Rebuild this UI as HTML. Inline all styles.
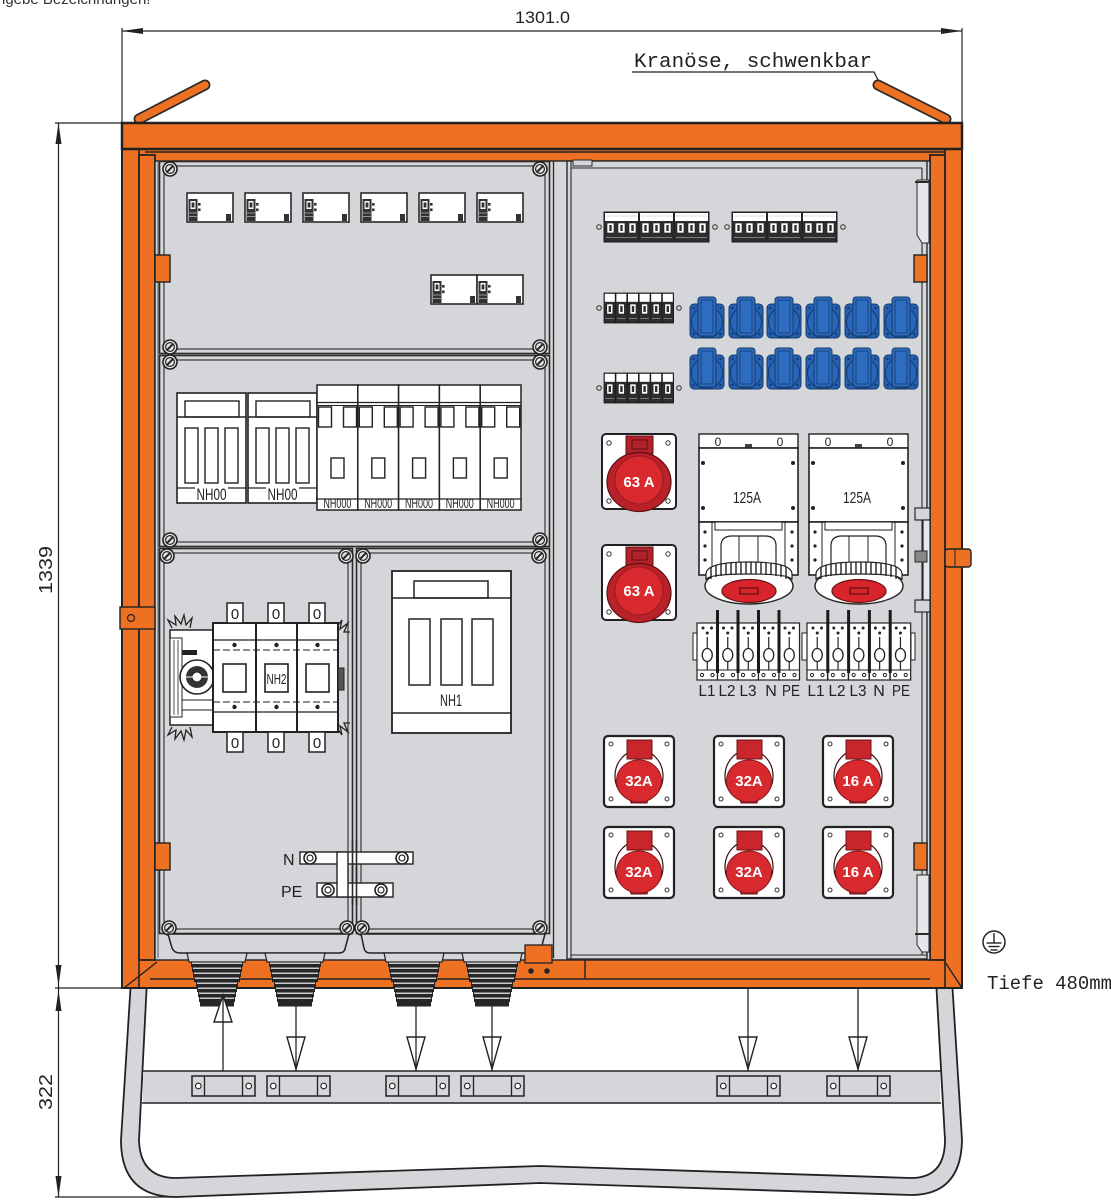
<!DOCTYPE html>
<html><head><meta charset="utf-8"><title>Baustromverteiler</title>
<style>
html,body{margin:0;padding:0;background:#fff;width:1111px;height:1200px;overflow:hidden}
svg{display:block}
</style></head><body>
<svg xmlns="http://www.w3.org/2000/svg" width="1111" height="1200" viewBox="0 0 1111 1200" font-family="'Liberation Sans', sans-serif">
<defs>
<g id="scr"><circle r="7" fill="#e4e5e7" stroke="#222" stroke-width="1.6"/><circle r="4.4" fill="none" stroke="#222" stroke-width="1.2"/><line x1="-3.3" y1="3.3" x2="3.3" y2="-3.3" stroke="#222" stroke-width="2"/></g>
<g id="mod">
<rect x="0" y="0" width="46" height="29" fill="#fff" stroke="#2a2a2a" stroke-width="1.6"/>
<rect x="1.5" y="6" width="9" height="22" fill="#333"/>
<rect x="3.5" y="8" width="5" height="8" fill="#fff"/>
<rect x="4.6" y="9.5" width="2.8" height="5" fill="#333"/>
<line x1="2" y1="20" x2="10" y2="20" stroke="#aaa" stroke-width="0.8"/>
<line x1="2" y1="23.5" x2="10" y2="23.5" stroke="#aaa" stroke-width="0.8"/>
<rect x="11" y="10" width="2.6" height="2.6" fill="#333"/>
<rect x="11" y="15.5" width="2.6" height="2.6" fill="#333"/>
<rect x="39" y="21" width="5" height="7" fill="#333"/>
</g>
<g id="mcb3">
<rect x="0" y="0" width="35" height="30" fill="#2e2e2e" stroke="#1a1a1a" stroke-width="1"/>
<rect x="1" y="1" width="33" height="8" fill="#fff"/>
<line x1="2" y1="4" x2="33" y2="4" stroke="#bbb" stroke-width="0.6"/>
<rect x="3" y="11" width="7" height="10" fill="#fff" stroke="#1a1a1a" stroke-width="0.6"/>
<rect x="14" y="11" width="7" height="10" fill="#fff" stroke="#1a1a1a" stroke-width="0.6"/>
<rect x="25" y="11" width="7" height="10" fill="#fff" stroke="#1a1a1a" stroke-width="0.6"/>
<rect x="5.3" y="13" width="2.4" height="6" fill="#2e2e2e"/>
<rect x="16.3" y="13" width="2.4" height="6" fill="#2e2e2e"/>
<rect x="27.3" y="13" width="2.4" height="6" fill="#2e2e2e"/>
<line x1="2" y1="25.5" x2="33" y2="25.5" stroke="#999" stroke-width="0.7"/>
</g>
<g id="mcb1">
<rect x="0" y="0" width="11.6" height="30" fill="#2e2e2e" stroke="#1a1a1a" stroke-width="0.8"/>
<rect x="0.8" y="0.8" width="10" height="8" fill="#fff"/>
<rect x="2.8" y="11" width="6" height="10" fill="#fff" stroke="#1a1a1a" stroke-width="0.6"/>
<rect x="4.6" y="13" width="2.4" height="6" fill="#2e2e2e"/>
<line x1="1.5" y1="25.5" x2="10" y2="25.5" stroke="#999" stroke-width="0.7"/>
</g>
<g id="blue">
<rect x="0" y="7" width="34" height="34" rx="4" fill="#2561b3" stroke="#143a6b" stroke-width="1"/>
<circle cx="17" cy="25" r="15.5" fill="#2866ba" stroke="#143a6b" stroke-width="1"/>
<rect x="8" y="0" width="18" height="39" rx="3" fill="#2e6cc0" stroke="#143a6b" stroke-width="1"/>
<rect x="11" y="3" width="12" height="33" fill="none" stroke="#143a6b" stroke-width="0.8"/>
<circle cx="3.5" cy="11" r="1.2" fill="#143a6b"/><circle cx="30.5" cy="11" r="1.2" fill="#143a6b"/>
<circle cx="3.5" cy="37" r="1.2" fill="#143a6b"/><circle cx="30.5" cy="37" r="1.2" fill="#143a6b"/>
</g>
<g id="s63">
<rect x="0" y="0" width="74" height="75" rx="4" fill="#fff" stroke="#222" stroke-width="2"/>
<circle cx="7" cy="9" r="2.2" fill="none" stroke="#333" stroke-width="1"/><circle cx="66" cy="9" r="2.2" fill="none" stroke="#333" stroke-width="1"/>
<circle cx="7" cy="67" r="2.2" fill="none" stroke="#333" stroke-width="1"/><circle cx="66" cy="67" r="2.2" fill="none" stroke="#333" stroke-width="1"/>
<rect x="24" y="2" width="27" height="18" fill="#b3222a" stroke="#5e1014" stroke-width="1"/>
<rect x="30" y="6" width="15" height="9" fill="none" stroke="#5e1014" stroke-width="1"/>
<ellipse cx="37" cy="48" rx="32" ry="29.5" fill="#b92228" stroke="#5e1014" stroke-width="1.2"/>
<circle cx="37" cy="46" r="24" fill="#d8292f" stroke="#9a1a1f" stroke-width="1"/>
</g>
<g id="s32">
<rect x="0" y="0" width="70" height="71" rx="4" fill="#fff" stroke="#222" stroke-width="2.2"/>
<circle cx="7" cy="8" r="2" fill="none" stroke="#333" stroke-width="1"/><circle cx="63" cy="8" r="2" fill="none" stroke="#333" stroke-width="1"/>
<circle cx="7" cy="63" r="2" fill="none" stroke="#333" stroke-width="1"/><circle cx="63" cy="63" r="2" fill="none" stroke="#333" stroke-width="1"/>
<ellipse cx="35" cy="40" rx="24" ry="26" fill="none" stroke="#3a0b0d" stroke-width="1.2"/>
<rect x="23" y="4" width="25" height="19" fill="#c8262c" stroke="#6a1216" stroke-width="1"/>
<path d="M24 56 L46 56 L43 67 L27 67 Z" fill="#c8262c" stroke="#6a1216" stroke-width="1"/>
<ellipse cx="35" cy="45" rx="22.5" ry="21" fill="#d8292f" stroke="#8f1a1f" stroke-width="1"/>
</g>
<g id="u125">
<rect x="0" y="0" width="99" height="14" fill="#fff" stroke="#222" stroke-width="1.4"/>
<rect x="46" y="10" width="7" height="4" fill="#444"/>
<rect x="0" y="14" width="99" height="74" fill="#fff" stroke="#222" stroke-width="1.6"/>
<circle cx="4" cy="29" r="2" fill="#222"/><circle cx="94" cy="29" r="2" fill="#222"/>
<circle cx="4" cy="74" r="2" fill="#222"/><circle cx="94" cy="74" r="2" fill="#222"/>
<rect x="0" y="88" width="99" height="53" fill="#fff" stroke="#222" stroke-width="1.6"/>
<line x1="13" y1="88" x2="13" y2="141" stroke="#222" stroke-width="1"/>
<line x1="86" y1="88" x2="86" y2="141" stroke="#222" stroke-width="1"/>
<circle cx="6" cy="98" r="1.6" fill="#222"/><circle cx="6" cy="112" r="1.6" fill="#222"/><circle cx="6" cy="126" r="1.6" fill="#222"/>
<circle cx="93" cy="98" r="1.6" fill="#222"/><circle cx="93" cy="112" r="1.6" fill="#222"/><circle cx="93" cy="126" r="1.6" fill="#222"/>
<rect x="16" y="88" width="67" height="8" fill="#fff" stroke="#222" stroke-width="1"/>
<path d="M22 141 L22 112 Q22 102 33 102 L66 102 Q77 102 77 112 L77 141" fill="#fff" stroke="#222" stroke-width="1.2"/>
<line x1="40" y1="102" x2="40" y2="141" stroke="#222" stroke-width="1"/>
<line x1="59" y1="102" x2="59" y2="141" stroke="#222" stroke-width="1"/>
<ellipse cx="50" cy="152" rx="44" ry="18" fill="#fff" stroke="#222" stroke-width="1.4"/>
<path d="M7 140 Q7 128 50 128 Q93 128 93 140 L93 146 Q93 140 50 140 Q7 140 7 146 Z" fill="#fff" stroke="#222" stroke-width="1.2"/>
<g stroke="#222" stroke-width="1.4">
<line x1="12" y1="133" x2="12" y2="145"/><line x1="17" y1="131" x2="17" y2="143"/><line x1="22" y1="130" x2="22" y2="142"/><line x1="27" y1="129" x2="27" y2="141"/><line x1="32" y1="129" x2="32" y2="141"/><line x1="37" y1="128" x2="37" y2="140"/><line x1="42" y1="128" x2="42" y2="140"/><line x1="47" y1="128" x2="47" y2="140"/><line x1="52" y1="128" x2="52" y2="140"/><line x1="57" y1="128" x2="57" y2="140"/><line x1="62" y1="128" x2="62" y2="140"/><line x1="67" y1="129" x2="67" y2="141"/><line x1="72" y1="129" x2="72" y2="141"/><line x1="77" y1="130" x2="77" y2="142"/><line x1="82" y1="131" x2="82" y2="143"/><line x1="87" y1="133" x2="87" y2="145"/>
</g>
<ellipse cx="50" cy="157" rx="27" ry="11.5" fill="#d8252b" stroke="#6a1216" stroke-width="1.2"/>
<rect x="41" y="154" width="18" height="6" fill="none" stroke="#5a0f12" stroke-width="1.2"/>
</g>
<g id="tb">
<rect x="0" y="0" width="20.5" height="57" fill="#fff" stroke="#222" stroke-width="1.2"/>
<circle cx="6" cy="5" r="1.5" fill="#222"/><circle cx="14.5" cy="5" r="1.5" fill="#222"/>
<circle cx="10.25" cy="10" r="1.5" fill="#222"/>
<line x1="10.25" y1="14" x2="10.25" y2="25" stroke="#222" stroke-width="1.2"/>
<ellipse cx="10.25" cy="32" rx="5" ry="6.5" fill="#fff" stroke="#222" stroke-width="1.3"/>
<line x1="10.25" y1="38.5" x2="10.25" y2="47" stroke="#222" stroke-width="1.2"/>
<line x1="0" y1="47" x2="20.5" y2="47" stroke="#222" stroke-width="1"/>
<circle cx="5" cy="52" r="1.6" fill="none" stroke="#222" stroke-width="1"/><circle cx="15.5" cy="52" r="1.6" fill="none" stroke="#222" stroke-width="1"/>
</g>
<g id="nh00">
<rect x="0" y="0" width="69" height="110" fill="#fff" stroke="#222" stroke-width="1.6"/>
<rect x="8" y="8" width="54" height="16" fill="#fff" stroke="#222" stroke-width="1.4"/>
<line x1="0" y1="24" x2="69" y2="24" stroke="#222" stroke-width="1.4"/>
<rect x="8" y="35" width="13" height="55" fill="#fff" stroke="#222" stroke-width="1.4"/>
<rect x="28" y="35" width="13" height="55" fill="#fff" stroke="#222" stroke-width="1.4"/>
<rect x="48" y="35" width="13" height="55" fill="#fff" stroke="#222" stroke-width="1.4"/>
<line x1="0" y1="95" x2="18" y2="95" stroke="#222" stroke-width="1.3"/>
<line x1="51" y1="95" x2="69" y2="95" stroke="#222" stroke-width="1.3"/>
</g>
<g id="nh000">
<rect x="0" y="0" width="40.8" height="125" fill="#fff" stroke="#222" stroke-width="1.5"/>
<line x1="0" y1="17.5" x2="40.8" y2="17.5" stroke="#222" stroke-width="1.2"/>
<line x1="0" y1="20.5" x2="40.8" y2="20.5" stroke="#222" stroke-width="1"/>
<rect x="1.5" y="22" width="13" height="20" fill="#fff" stroke="#222" stroke-width="1.4"/>
<rect x="26.5" y="22" width="13" height="20" fill="#fff" stroke="#222" stroke-width="1.4"/>
<rect x="14" y="73" width="13" height="20" fill="#fff" stroke="#222" stroke-width="1.4"/>
<line x1="0" y1="114" x2="40.8" y2="114" stroke="#222" stroke-width="1.3"/>
</g>
<g id="gland">
<path d="M-30 953 L30 953 L28 962 L-28 962 Z" fill="#d4d6d9" stroke="#222" stroke-width="1.2"/>
<rect x="-26" y="962" width="52" height="5" fill="#262626"/><rect x="-25" y="962.5" width="50" height="1.5" fill="#c9cbce"/>
<rect x="-25" y="967" width="50" height="5" fill="#262626"/><rect x="-24" y="967.5" width="48" height="1.5" fill="#c9cbce"/>
<rect x="-24" y="972" width="48" height="5" fill="#262626"/><rect x="-23" y="972.5" width="46" height="1.5" fill="#c9cbce"/>
<rect x="-23" y="977" width="46" height="5" fill="#262626"/><rect x="-22" y="977.5" width="44" height="1.5" fill="#c9cbce"/>
<rect x="-21" y="982" width="42" height="5" fill="#262626"/><rect x="-20" y="982.5" width="40" height="1.5" fill="#c9cbce"/>
<rect x="-20" y="987" width="40" height="5" fill="#262626"/><rect x="-19" y="987.5" width="38" height="1.5" fill="#c9cbce"/>
<rect x="-19" y="992" width="38" height="5" fill="#262626"/><rect x="-18" y="992.5" width="36" height="1.5" fill="#c9cbce"/>
<rect x="-18" y="997" width="36" height="5" fill="#262626"/><rect x="-17" y="997.5" width="34" height="1.5" fill="#c9cbce"/>
<rect x="-17" y="1002" width="34" height="4.5" fill="#262626"/>
</g>
<g id="brk">
<rect x="0" y="0" width="63" height="20" fill="#d4d6d9" stroke="#222" stroke-width="1.5"/>
<line x1="12.5" y1="0" x2="12.5" y2="20" stroke="#222" stroke-width="1.3"/>
<line x1="50.5" y1="0" x2="50.5" y2="20" stroke="#222" stroke-width="1.3"/>
<circle cx="6.3" cy="10" r="2.8" fill="#fff" stroke="#222" stroke-width="1.1"/>
<circle cx="56.7" cy="10" r="2.8" fill="#fff" stroke="#222" stroke-width="1.1"/>
</g>
<g id="adn">
<path d="M-9 -32 L9 -32 L0 0 Z" fill="#fff" stroke="#222" stroke-width="1.4"/>
<line x1="0" y1="-32" x2="0" y2="0" stroke="#222" stroke-width="1.3"/>
</g>
</defs>

<!-- header text -->
<text x="-3" y="4" font-size="15" fill="#333">ngebe Bezeichnungen!</text>

<!-- top dimension -->
<line x1="122" y1="31" x2="962" y2="31" stroke="#222" stroke-width="1.2"/>
<path d="M122 31 L143 28 L143 34 Z" fill="#222"/>
<path d="M962 31 L941 28 L941 34 Z" fill="#222"/>
<line x1="122" y1="28" x2="122" y2="123" stroke="#222" stroke-width="1.2"/>
<line x1="962" y1="28" x2="962" y2="123" stroke="#222" stroke-width="1.2"/>
<text x="515" y="23" font-size="17" fill="#222" textLength="55" lengthAdjust="spacingAndGlyphs">1301.0</text>

<!-- left dimensions -->
<line x1="55" y1="123" x2="122" y2="123" stroke="#222" stroke-width="1.2"/>
<line x1="55" y1="988" x2="130" y2="988" stroke="#222" stroke-width="1.2"/>
<line x1="55" y1="1197" x2="178" y2="1197" stroke="#222" stroke-width="1.2"/>
<line x1="58.5" y1="123" x2="58.5" y2="1197" stroke="#222" stroke-width="1.2"/>
<path d="M58.5 123 L55.5 144 L61.5 144 Z" fill="#222"/>
<path d="M58.5 986 L55.5 965 L61.5 965 Z" fill="#222"/>
<path d="M58.5 990 L55.5 1011 L61.5 1011 Z" fill="#222"/>
<path d="M58.5 1197 L55.5 1176 L61.5 1176 Z" fill="#222"/>
<text transform="translate(52,570) rotate(-90)" text-anchor="middle" font-size="18" fill="#222" textLength="48" lengthAdjust="spacingAndGlyphs">1339</text>
<text transform="translate(52,1092) rotate(-90)" text-anchor="middle" font-size="18" fill="#222" textLength="36" lengthAdjust="spacingAndGlyphs">322</text>

<!-- Kranöse label -->
<text x="634" y="67" font-family="'Liberation Mono', monospace" font-size="20" fill="#222" textLength="238" lengthAdjust="spacingAndGlyphs">Kranöse, schwenkbar</text>
<polyline points="632,72 874,72 880,84" fill="none" stroke="#222" stroke-width="1.3"/>

<!-- handles -->
<line x1="139" y1="119" x2="205" y2="85" stroke="#2a2a2a" stroke-width="11" stroke-linecap="round"/>
<line x1="139" y1="119" x2="205" y2="85" stroke="#ee7023" stroke-width="7.5" stroke-linecap="round"/>
<line x1="878" y1="85" x2="946" y2="119" stroke="#2a2a2a" stroke-width="11" stroke-linecap="round"/>
<line x1="878" y1="85" x2="946" y2="119" stroke="#ee7023" stroke-width="7.5" stroke-linecap="round"/>

<!-- stand -->
<path d="M131 980 L121 1140 Q121 1197 176 1197 L540 1183 L911 1195 Q961 1195 962 1140 L952 980 Z" fill="#d4d6d9" stroke="#222" stroke-width="1.8"/>
<path d="M147 980 L139 1140 Q140 1178 176 1178 L540 1166 L911 1178 Q945 1178 945 1140 L936 980 Z" fill="#fff" stroke="#222" stroke-width="1.8"/>
<rect x="143" y="1071" width="797" height="32" fill="#d4d6d9"/>
<line x1="142" y1="1071" x2="941" y2="1071" stroke="#222" stroke-width="1.6"/>
<line x1="142" y1="1103" x2="941" y2="1103" stroke="#222" stroke-width="1.6"/>
<use href="#brk" x="192" y="1076"/>
<use href="#brk" x="267" y="1076"/>
<use href="#brk" x="386" y="1076"/>
<use href="#brk" x="461" y="1076"/>
<use href="#brk" x="717" y="1076"/>
<use href="#brk" x="827" y="1076"/>
<!-- arrows -->
<line x1="296" y1="1000" x2="296" y2="1071" stroke="#222" stroke-width="1.3"/>
<line x1="416" y1="1000" x2="416" y2="1071" stroke="#222" stroke-width="1.3"/>
<line x1="492" y1="1000" x2="492" y2="1071" stroke="#222" stroke-width="1.3"/>
<line x1="748" y1="985" x2="748" y2="1071" stroke="#222" stroke-width="1.3"/>
<line x1="858" y1="985" x2="858" y2="1071" stroke="#222" stroke-width="1.3"/>
<use href="#adn" x="296" y="1069"/>
<use href="#adn" x="416" y="1069"/>
<use href="#adn" x="492" y="1069"/>
<use href="#adn" x="748" y="1069"/>
<use href="#adn" x="858" y="1069"/>

<!-- cabinet body -->
<rect x="122" y="123" width="840" height="865" fill="#ee7023" stroke="#222" stroke-width="2"/>
<rect x="122" y="123" width="840" height="26" fill="#ee7023" stroke="#222" stroke-width="2.5"/>
<line x1="145" y1="152" x2="945" y2="152" stroke="#222" stroke-width="1.6"/>
<line x1="139" y1="149" x2="139" y2="988" stroke="#222" stroke-width="1.6"/>
<line x1="945" y1="149" x2="945" y2="988" stroke="#222" stroke-width="1.6"/>
<rect x="139" y="155" width="16" height="805" fill="#ee7023" stroke="#222" stroke-width="1.8"/>
<rect x="930" y="155" width="15" height="805" fill="#ee7023" stroke="#222" stroke-width="1.8"/>
<rect x="155" y="161" width="775" height="799" fill="#d4d6d9" stroke="#222" stroke-width="1.4"/>
<line x1="150" y1="979" x2="930" y2="979" stroke="#222" stroke-width="1.6"/>
<line x1="585" y1="960" x2="585" y2="979" stroke="#222" stroke-width="1.4"/>
<line x1="157" y1="962" x2="124" y2="988" stroke="#222" stroke-width="1.4"/>
<line x1="945" y1="962" x2="962" y2="988" stroke="#222" stroke-width="1.4"/>

<!-- left door frame lines -->
<line x1="158" y1="161" x2="158" y2="958" stroke="#555" stroke-width="1"/>

<!-- left door sections -->
<g fill="none" stroke="#2a2a2a">
<rect x="159.5" y="161.5" width="390" height="192" stroke-width="1.6"/>
<rect x="164" y="166" width="381" height="183" stroke-width="1.1"/>
<rect x="159.5" y="355.5" width="390" height="191" stroke-width="1.6"/>
<rect x="164" y="360" width="381" height="182" stroke-width="1.1"/>
<rect x="159.5" y="548.5" width="193" height="385" stroke-width="1.6"/>
<rect x="164" y="553" width="184" height="376" stroke-width="1.1"/>
<rect x="356.5" y="548.5" width="193" height="385" stroke-width="1.6"/>
<rect x="361" y="553" width="184" height="376" stroke-width="1.1"/>
</g>
<line x1="553.5" y1="161" x2="553.5" y2="958" stroke="#2a2a2a" stroke-width="1.3"/>

<!-- right door panel lines -->
<rect x="567" y="161" width="360" height="798" fill="#d4d6d9" stroke="#2a2a2a" stroke-width="1.4"/>
<line x1="571" y1="161" x2="571" y2="959" stroke="#2a2a2a" stroke-width="1.1"/>
<line x1="571" y1="168" x2="922" y2="168" stroke="#2a2a2a" stroke-width="1.1"/>
<line x1="922" y1="168" x2="922" y2="955" stroke="#2a2a2a" stroke-width="1.1"/>
<line x1="571" y1="955" x2="927" y2="955" stroke="#2a2a2a" stroke-width="1.1"/>
<rect x="573" y="160" width="19" height="6" fill="#d4d6d9" stroke="#2a2a2a" stroke-width="1"/>
<path d="M917 180 L929 180 L929 243 L922 243 L917 235 Z" fill="#e6e7e8" stroke="#2a2a2a" stroke-width="1"/>
<line x1="915" y1="182" x2="930" y2="182" stroke="#2a2a2a" stroke-width="2"/>
<path d="M917 875 L929 875 L929 952 L922 952 L917 945 Z" fill="#e6e7e8" stroke="#2a2a2a" stroke-width="1"/>
<line x1="915" y1="934" x2="930" y2="934" stroke="#2a2a2a" stroke-width="2"/>
<!-- right latch -->
<rect x="915" y="508" width="15" height="12" fill="#d4d6d9" stroke="#2a2a2a" stroke-width="1.2"/>
<rect x="915" y="600" width="15" height="12" fill="#d4d6d9" stroke="#2a2a2a" stroke-width="1.2"/>
<rect x="923" y="520" width="7" height="80" fill="#e6e7e8" stroke="#2a2a2a" stroke-width="1.2"/>
<rect x="915" y="551" width="12" height="11" fill="#888" stroke="#2a2a2a" stroke-width="1"/>

<!-- hinge tabs -->
<rect x="155" y="255" width="15" height="27" fill="#ee7023" stroke="#222" stroke-width="1.4"/>
<rect x="155" y="843" width="15" height="27" fill="#ee7023" stroke="#222" stroke-width="1.4"/>
<rect x="914" y="255" width="13" height="27" fill="#ee7023" stroke="#222" stroke-width="1.4"/>
<rect x="914" y="843" width="13" height="27" fill="#ee7023" stroke="#222" stroke-width="1.4"/>
<rect x="120" y="607" width="35" height="22" fill="#ee7023" stroke="#222" stroke-width="1.4"/>
<circle cx="131" cy="618" r="3.5" fill="none" stroke="#222" stroke-width="1.2"/>
<rect x="945" y="549" width="26" height="18" rx="3" fill="#ee7023" stroke="#222" stroke-width="1.4"/>
<line x1="955" y1="549" x2="955" y2="567" stroke="#222" stroke-width="1"/>

<!-- screws -->
<use href="#scr" x="170" y="169"/><use href="#scr" x="540" y="169"/>
<use href="#scr" x="170" y="347"/><use href="#scr" x="540" y="347"/>
<use href="#scr" x="170" y="362"/><use href="#scr" x="540" y="362"/>
<use href="#scr" x="170" y="540"/><use href="#scr" x="540" y="540"/>
<use href="#scr" x="167" y="556"/><use href="#scr" x="346" y="556"/>
<use href="#scr" x="363" y="556"/><use href="#scr" x="539" y="556"/>
<use href="#scr" x="169" y="928"/><use href="#scr" x="347" y="928"/>
<use href="#scr" x="362" y="928"/><use href="#scr" x="540" y="928"/>

<!-- section 1 modules -->
<use href="#mod" x="187" y="193"/><use href="#mod" x="245" y="193"/><use href="#mod" x="303" y="193"/>
<use href="#mod" x="361" y="193"/><use href="#mod" x="419" y="193"/><use href="#mod" x="477" y="193"/>
<use href="#mod" x="431" y="275"/><use href="#mod" x="477" y="275"/>

<!-- section 2 fuses -->
<use href="#nh00" x="177" y="393"/>
<use href="#nh00" x="248" y="393"/>
<text x="211.5" y="500" font-size="17" text-anchor="middle" fill="#222" textLength="30" lengthAdjust="spacingAndGlyphs">NH00</text>
<text x="282.5" y="500" font-size="17" text-anchor="middle" fill="#222" textLength="30" lengthAdjust="spacingAndGlyphs">NH00</text>
<use href="#nh000" x="317" y="385"/><use href="#nh000" x="357.8" y="385"/><use href="#nh000" x="398.6" y="385"/><use href="#nh000" x="439.4" y="385"/><use href="#nh000" x="480.2" y="385"/>
<g font-size="14" fill="#222" text-anchor="middle">
<text x="337.4" y="508" textLength="28" lengthAdjust="spacingAndGlyphs">NH000</text>
<text x="378.2" y="508" textLength="28" lengthAdjust="spacingAndGlyphs">NH000</text>
<text x="419" y="508" textLength="28" lengthAdjust="spacingAndGlyphs">NH000</text>
<text x="459.8" y="508" textLength="28" lengthAdjust="spacingAndGlyphs">NH000</text>
<text x="500.6" y="508" textLength="28" lengthAdjust="spacingAndGlyphs">NH000</text>
</g>

<!-- NH2 switch -->
<g stroke="#222" fill="none" stroke-width="1.3">
<polyline points="172,628 168,620 176,625 175,616 181,624 184,615 186,625 192,618 190,628"/>
<polyline points="172,727 168,735 176,730 175,739 181,731 184,740 186,730 192,737 190,727"/>
<polyline points="336,628 342,620 340,629 348,623 344,632 350,632"/>
<polyline points="336,727 342,735 340,726 348,732 344,723 350,723"/>
</g>
<rect x="170" y="630" width="45" height="95" fill="#fff" stroke="#222" stroke-width="1.5"/>
<rect x="170" y="638" width="12" height="79" fill="#fff" stroke="#222" stroke-width="1"/>
<line x1="174" y1="640" x2="174" y2="715" stroke="#222" stroke-width="0.8"/>
<line x1="178" y1="640" x2="178" y2="715" stroke="#222" stroke-width="0.8"/>
<rect x="182" y="650" width="15" height="5" fill="#222"/>
<line x1="182" y1="700" x2="215" y2="700" stroke="#222" stroke-width="1"/>
<line x1="182" y1="710" x2="215" y2="710" stroke="#222" stroke-width="1"/>
<circle cx="197" cy="677" r="17" fill="#fff" stroke="#222" stroke-width="1.6"/>
<circle cx="197" cy="677" r="11" fill="#333"/>
<circle cx="197" cy="677" r="5" fill="#fff" stroke="#222"/>
<line x1="186" y1="677" x2="208" y2="677" stroke="#fff" stroke-width="1"/>
<rect x="213" y="623" width="125" height="109" fill="#fff" stroke="#222" stroke-width="2"/>
<line x1="256" y1="623" x2="256" y2="732" stroke="#222" stroke-width="2"/>
<line x1="297" y1="623" x2="297" y2="732" stroke="#222" stroke-width="2"/>
<line x1="213" y1="640" x2="338" y2="640" stroke="#222" stroke-width="1.2"/>
<line x1="213" y1="650" x2="338" y2="650" stroke="#222" stroke-width="1" stroke-dasharray="7 3"/>
<line x1="213" y1="702" x2="338" y2="702" stroke="#222" stroke-width="1" stroke-dasharray="7 3"/>
<line x1="213" y1="712" x2="338" y2="712" stroke="#222" stroke-width="1.2"/>
<circle cx="234.5" cy="645" r="2.2" fill="#222"/><circle cx="276.5" cy="645" r="2.2" fill="#222"/><circle cx="317.5" cy="645" r="2.2" fill="#222"/>
<circle cx="234.5" cy="707" r="2.2" fill="#222"/><circle cx="276.5" cy="707" r="2.2" fill="#222"/><circle cx="317.5" cy="707" r="2.2" fill="#222"/>
<rect x="223" y="664" width="23" height="28" fill="#fff" stroke="#222" stroke-width="1.6"/>
<rect x="265" y="664" width="23" height="28" fill="#fff" stroke="#222" stroke-width="1.6"/>
<rect x="306" y="664" width="23" height="28" fill="#fff" stroke="#222" stroke-width="1.6"/>
<text x="276.5" y="684" font-size="15" text-anchor="middle" fill="#222" textLength="20" lengthAdjust="spacingAndGlyphs">NH2</text>
<rect x="338" y="668" width="6" height="22" fill="#555" stroke="#222" stroke-width="1"/>
<g fill="#fff" stroke="#222" stroke-width="1.5">
<rect x="227" y="603" width="16" height="20"/><rect x="268" y="603" width="16" height="20"/><rect x="309" y="603" width="16" height="20"/>
<rect x="227" y="732" width="16" height="20"/><rect x="268" y="732" width="16" height="20"/><rect x="309" y="732" width="16" height="20"/>
</g>
<g font-size="15" fill="#222" text-anchor="middle">
<text x="235" y="619">0</text><text x="276" y="619">0</text><text x="317" y="619">0</text>
<text x="235" y="748">0</text><text x="276" y="748">0</text><text x="317" y="748">0</text>
</g>

<!-- NH1 -->
<rect x="392" y="571" width="119" height="162" fill="#fff" stroke="#222" stroke-width="1.8"/>
<rect x="414" y="581" width="74" height="17" fill="#fff" stroke="#222" stroke-width="1.5"/>
<line x1="392" y1="598" x2="511" y2="598" stroke="#222" stroke-width="1.5"/>
<rect x="409" y="619" width="21" height="66" fill="#fff" stroke="#222" stroke-width="1.5"/>
<rect x="441" y="619" width="21" height="66" fill="#fff" stroke="#222" stroke-width="1.5"/>
<rect x="472" y="619" width="21" height="66" fill="#fff" stroke="#222" stroke-width="1.5"/>
<text x="451" y="706" font-size="17" text-anchor="middle" fill="#222" textLength="22" lengthAdjust="spacingAndGlyphs">NH1</text>
<line x1="392" y1="713" x2="511" y2="713" stroke="#222" stroke-width="1.5"/>

<!-- N / PE bars -->
<rect x="300" y="852" width="113" height="12" fill="#fff" stroke="#222" stroke-width="1.4"/>
<rect x="317" y="883" width="76" height="14" fill="#fff" stroke="#222" stroke-width="1.4"/>
<rect x="337" y="852" width="11" height="45" fill="#fff" stroke="#222" stroke-width="1.4"/>
<line x1="352.5" y1="840" x2="352.5" y2="905" stroke="#2a2a2a" stroke-width="1.6"/>
<line x1="356.5" y1="840" x2="356.5" y2="905" stroke="#2a2a2a" stroke-width="1.6"/>
<g fill="#fff" stroke="#222">
<circle cx="310" cy="858" r="6" stroke-width="1.6"/><circle cx="310" cy="858" r="3" stroke-width="1.2"/>
<circle cx="402" cy="858" r="6" stroke-width="1.6"/><circle cx="402" cy="858" r="3" stroke-width="1.2"/>
<circle cx="328" cy="890" r="6" stroke-width="1.6"/><circle cx="328" cy="890" r="3" stroke-width="1.2"/>
<circle cx="381" cy="890" r="6" stroke-width="1.6"/><circle cx="381" cy="890" r="3" stroke-width="1.2"/>
</g>
<text x="283" y="865" font-size="16" fill="#222">N</text>
<text x="281" y="897" font-size="16" fill="#222">PE</text>

<!-- gland troughs -->
<path d="M168 934 L349 934 L345 949 Q344 953 339 953 L180 953 Q174 953 172 948 Z" fill="#d4d6d9" stroke="#222" stroke-width="1.5"/>
<path d="M361 934 L545 934 L541 949 Q540 953 535 953 L370 953 Q365 953 364 948 Z" fill="#d4d6d9" stroke="#222" stroke-width="1.5"/>
<rect x="525" y="945" width="27" height="18" fill="#ee7023" stroke="#222" stroke-width="1.3"/>
<circle cx="531" cy="971" r="2.8" fill="#222"/><circle cx="547" cy="971" r="2.8" fill="#222"/>

<!-- glands -->
<use href="#gland" x="217" y="0"/>
<use href="#gland" x="295" y="0"/>
<use href="#gland" x="414" y="0"/>
<use href="#gland" x="492" y="0"/>
<!-- up arrow -->
<line x1="223" y1="995" x2="223" y2="1071" stroke="#222" stroke-width="1.3"/>
<path d="M223 995 L214 1022 L232 1022 Z" fill="#fff" stroke="#222" stroke-width="1.4"/>
<line x1="223" y1="995" x2="223" y2="1022" stroke="#222" stroke-width="1.3"/>

<!-- right door: MCB rows -->
<use href="#mcb3" x="604" y="212"/><use href="#mcb3" x="639" y="212"/><use href="#mcb3" x="674" y="212"/>
<use href="#mcb3" x="732" y="212"/><use href="#mcb3" x="767" y="212"/><use href="#mcb3" x="802" y="212"/>
<use href="#mcb1" x="604" y="293"/><use href="#mcb1" x="615.6" y="293"/><use href="#mcb1" x="627.2" y="293"/><use href="#mcb1" x="638.8" y="293"/><use href="#mcb1" x="650.4" y="293"/><use href="#mcb1" x="662" y="293"/>
<use href="#mcb1" x="604" y="373"/><use href="#mcb1" x="615.6" y="373"/><use href="#mcb1" x="627.2" y="373"/><use href="#mcb1" x="638.8" y="373"/><use href="#mcb1" x="650.4" y="373"/><use href="#mcb1" x="662" y="373"/>
<g fill="none" stroke="#333" stroke-width="1">
<circle cx="599" cy="227" r="2.3"/><circle cx="715" cy="227" r="2.3"/><circle cx="727" cy="227" r="2.3"/><circle cx="843" cy="227" r="2.3"/>
<circle cx="599" cy="308" r="2.3"/><circle cx="679" cy="308" r="2.3"/>
<circle cx="599" cy="388" r="2.3"/><circle cx="679" cy="388" r="2.3"/>
</g>

<!-- blue sockets -->
<use href="#blue" x="690" y="297"/><use href="#blue" x="729" y="297"/><use href="#blue" x="767" y="297"/><use href="#blue" x="806" y="297"/><use href="#blue" x="845" y="297"/><use href="#blue" x="884" y="297"/>
<use href="#blue" x="690" y="348"/><use href="#blue" x="729" y="348"/><use href="#blue" x="767" y="348"/><use href="#blue" x="806" y="348"/><use href="#blue" x="845" y="348"/><use href="#blue" x="884" y="348"/>

<!-- 63A sockets -->
<use href="#s63" x="602" y="434"/>
<use href="#s63" x="602" y="545"/>
<text x="639" y="487" font-size="15" font-weight="bold" fill="#fff" text-anchor="middle">63 A</text>
<text x="639" y="596" font-size="15" font-weight="bold" fill="#fff" text-anchor="middle">63 A</text>

<!-- 125A units -->
<use href="#u125" x="699" y="434"/>
<use href="#u125" x="809" y="434"/>
<g font-size="12" fill="#222" text-anchor="middle">
<text x="718" y="446">0</text><text x="780" y="446">0</text>
<text x="828" y="446">0</text><text x="890" y="446">0</text>
</g>
<text x="747" y="503" font-size="16" fill="#222" text-anchor="middle" textLength="28" lengthAdjust="spacingAndGlyphs">125A</text>
<text x="857" y="503" font-size="16" fill="#222" text-anchor="middle" textLength="28" lengthAdjust="spacingAndGlyphs">125A</text>

<!-- terminal blocks -->
<rect x="693" y="633" width="4" height="27" fill="#fff" stroke="#222" stroke-width="1"/>
<rect x="802" y="633" width="5" height="27" fill="#fff" stroke="#222" stroke-width="1"/>
<rect x="911" y="633" width="4" height="27" fill="#fff" stroke="#222" stroke-width="1"/>
<use href="#tb" x="697" y="623"/><use href="#tb" x="717.5" y="623"/><use href="#tb" x="738" y="623"/><use href="#tb" x="758.5" y="623"/><use href="#tb" x="779" y="623"/>
<use href="#tb" x="807" y="623"/><use href="#tb" x="827.8" y="623"/><use href="#tb" x="848.6" y="623"/><use href="#tb" x="869.4" y="623"/><use href="#tb" x="890.2" y="623"/>
<g fill="#1a1a1a">
<rect x="716" y="610" width="3" height="63"/><rect x="736.5" y="610" width="3" height="63"/><rect x="757" y="610" width="3" height="63"/><rect x="777.5" y="610" width="3" height="63"/>
<rect x="826.3" y="610" width="3" height="63"/><rect x="847.1" y="610" width="3" height="63"/><rect x="867.9" y="610" width="3" height="63"/><rect x="888.7" y="610" width="3" height="63"/>
</g>
<g font-size="16" fill="#222" text-anchor="middle">
<text x="707" y="696" textLength="17" lengthAdjust="spacingAndGlyphs">L1</text>
<text x="727" y="696" textLength="17" lengthAdjust="spacingAndGlyphs">L2</text>
<text x="748" y="696" textLength="17" lengthAdjust="spacingAndGlyphs">L3</text>
<text x="771" y="696">N</text>
<text x="791" y="696" textLength="18" lengthAdjust="spacingAndGlyphs">PE</text>
<text x="816" y="696" textLength="17" lengthAdjust="spacingAndGlyphs">L1</text>
<text x="837" y="696" textLength="17" lengthAdjust="spacingAndGlyphs">L2</text>
<text x="858" y="696" textLength="17" lengthAdjust="spacingAndGlyphs">L3</text>
<text x="879" y="696">N</text>
<text x="901" y="696" textLength="18" lengthAdjust="spacingAndGlyphs">PE</text>
</g>

<!-- CEE sockets -->
<use href="#s32" x="604" y="736"/><use href="#s32" x="714" y="736"/><use href="#s32" x="823" y="736"/>
<use href="#s32" x="604" y="827"/><use href="#s32" x="714" y="827"/><use href="#s32" x="823" y="827"/>
<g font-size="15" font-weight="bold" fill="#fff" text-anchor="middle">
<text x="639" y="786">32A</text><text x="749" y="786">32A</text><text x="858" y="786">16 A</text>
<text x="639" y="877">32A</text><text x="749" y="877">32A</text><text x="858" y="877">16 A</text>
</g>

<!-- ground symbol + depth -->
<circle cx="994" cy="942" r="11" fill="none" stroke="#222" stroke-width="1.5"/>
<line x1="994" y1="933" x2="994" y2="943" stroke="#222" stroke-width="1.4"/>
<line x1="986.5" y1="943" x2="1001.5" y2="943" stroke="#222" stroke-width="1.4"/>
<line x1="988.5" y1="946.5" x2="999.5" y2="946.5" stroke="#222" stroke-width="1.4"/>
<line x1="990.5" y1="950" x2="997.5" y2="950" stroke="#222" stroke-width="1.4"/>
<text x="987" y="989" font-family="'Liberation Mono', monospace" font-size="19" fill="#222" textLength="125" lengthAdjust="spacingAndGlyphs">Tiefe 480mm</text>
</svg>
</body></html>
